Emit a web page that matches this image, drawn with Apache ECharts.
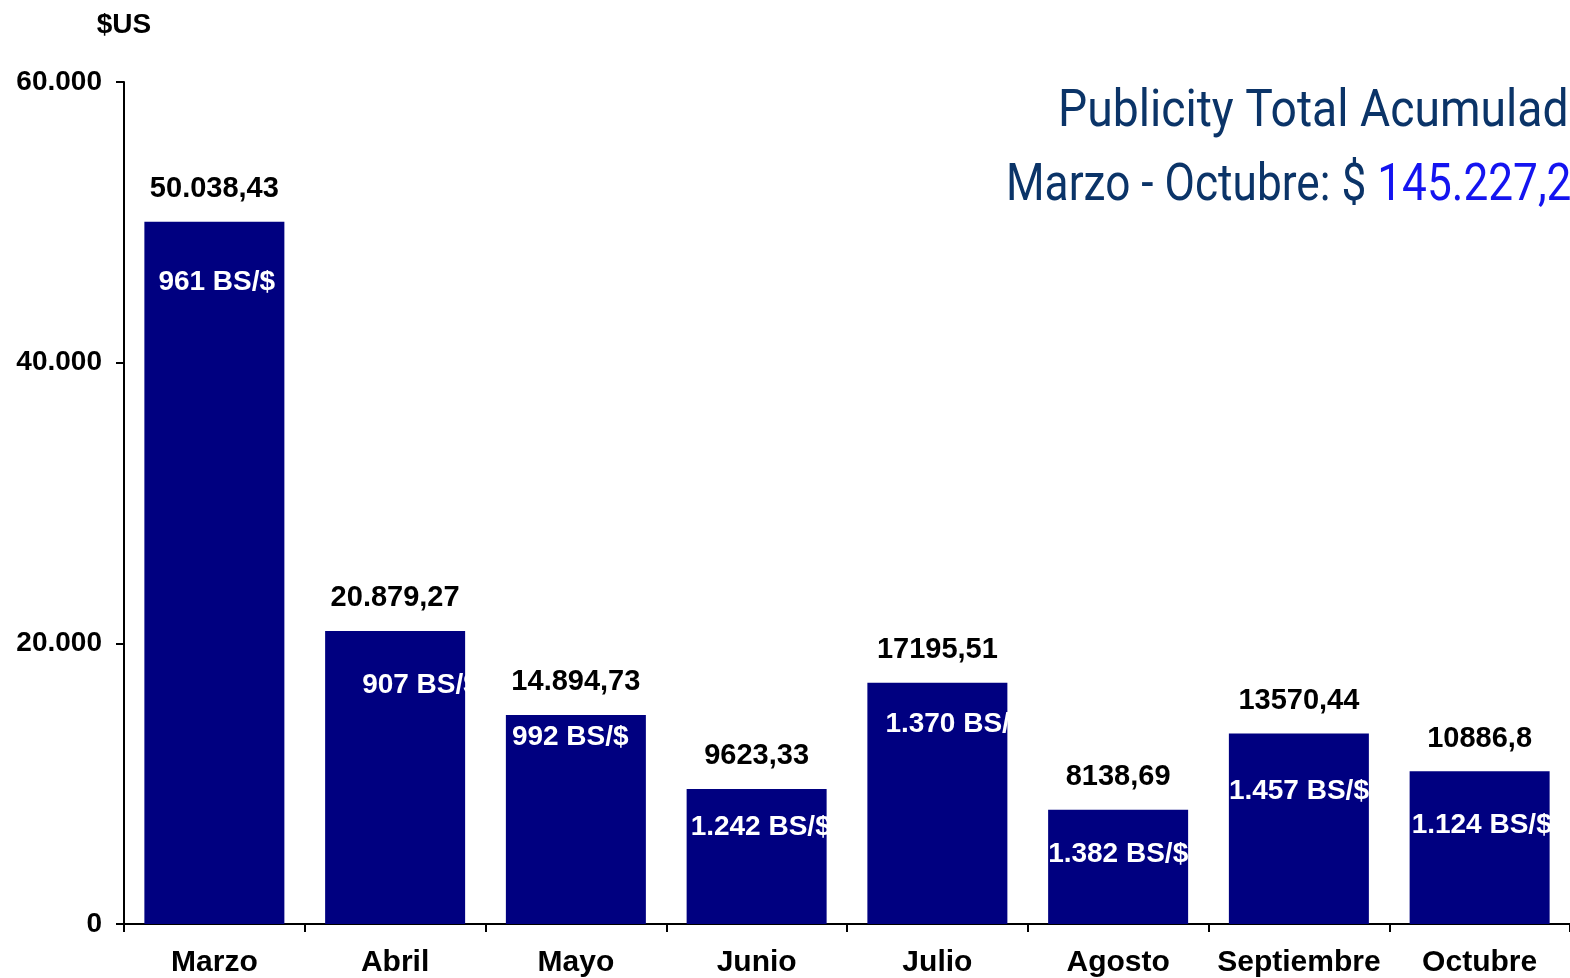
<!DOCTYPE html>
<html>
<head>
<meta charset="utf-8">
<script src="https://cdn.jsdelivr.net/npm/echarts@6/dist/echarts.min.js"></script>
<style>
  html, body { margin: 0; padding: 0; background: #fff; }
  #chart { width: 1570px; height: 978px; }
</style>
</head>
<body>
<div id="chart"></div>
<script>
var meses = ['Marzo', 'Abril', 'Mayo', 'Junio', 'Julio', 'Agosto', 'Septiembre', 'Octubre'];
var montos = [50038.43, 20879.27, 14894.73, 9623.33, 17195.51, 8138.69, 13570.44, 10886.8];
var etiquetas = ['50.038,43', '20.879,27', '14.894,73', '9623,33', '17195,51', '8138,69', '13570,44', '10886,8'];
var tasas = ['961 BS/$', '907 BS/$', '992 BS/$', '1.242 BS/$', '1.370 BS/$', '1.382 BS/$', '1.457 BS/$', '1.124 BS/$'];
var ticksY = [0, 20000, 40000, 60000];

// donde cae el texto de la tasa dentro de cada barra (px desde la esquina sup. izq.)
// lo que se sale de la barra queda blanco sobre blanco, como en el original
var posTasa = [[14, 60], [37, 54], [6, 22], [4, 38], [18, 42], [0, 44], [0, 58], [2, 54]];
var anchoBarra = 140;

var chart = echarts.init(document.getElementById('chart'));

function fmtMiles(v) {
  return String(v).replace(/\B(?=(\d{3})+(?!\d))/g, '.');
}

var fuente = 'Liberation Sans, Arial, sans-serif';

var option = {
  animation: false,
  grid: { left: 124, right: -2, top: 82, bottom: 53 },
  xAxis: {
    type: 'category',
    data: meses,
    axisLine: { lineStyle: { color: '#000', width: 2 } },
    axisTick: { show: true, length: 8, lineStyle: { color: '#000', width: 2 } },
    axisLabel: {
      interval: 0,
      margin: 24,
      color: '#000',
      fontFamily: fuente,
      fontWeight: 'bold',
      fontSize: 30
    }
  },
  yAxis: {
    type: 'value',
    min: ticksY[0],
    max: ticksY[ticksY.length - 1],
    interval: 20000,
    name: '$US',
    nameLocation: 'end',
    nameGap: 43,
    nameTextStyle: {
      color: '#000',
      fontFamily: fuente,
      fontWeight: 'bold',
      fontSize: 28,
      align: 'center'
    },
    splitLine: { show: false },
    axisLine: { show: true, lineStyle: { color: '#000', width: 2 } },
    axisTick: { show: true, length: 8, lineStyle: { color: '#000', width: 2 } },
    axisLabel: {
      margin: 22,
      color: '#000',
      fontFamily: fuente,
      fontWeight: 'bold',
      fontSize: 28,
      formatter: function (v) { return fmtMiles(v); }
    }
  },
  graphic: [
    {
      type: 'text',
      left: 1058,
      top: 87,
      scaleX: 0.89,
      style: {
        text: 'Publicity Total Acumulado',
        fill: '#0b3468',
        font: '52px Roboto, "Noto Sans", sans-serif'
      }
    },
    {
      type: 'text',
      left: 1006,
      top: 161,
      scaleX: 0.85,
      style: {
        text: '{a|Marzo - Octubre: $ }{b|145.227,2}',
        font: '52px Roboto, "Noto Sans", sans-serif',
        rich: {
          a: { fill: '#0b3468', font: '52px Roboto, "Noto Sans", sans-serif' },
          b: { fill: '#1414f0', font: '52px Roboto, "Noto Sans", sans-serif' }
        }
      }
    }
  ],
  series: [
    {
      type: 'bar',
      data: montos,
      barWidth: anchoBarra,
      itemStyle: { color: '#000080' },
      label: {
        show: true,
        position: 'top',
        distance: 18,
        color: '#000',
        fontFamily: fuente,
        fontWeight: 'bold',
        fontSize: 29,
        formatter: function (p) { return etiquetas[p.dataIndex]; }
      },
      z: 2
    },
    {
      type: 'bar',
      barGap: '-100%',
      barWidth: anchoBarra,
      itemStyle: { color: 'rgba(0,0,0,0)' },
      data: montos.map(function (v, i) {
        return { value: v, label: { position: posTasa[i] } };
      }),
      label: {
        show: true,
        align: 'left',
        verticalAlign: 'middle',
        color: '#fff',
        fontFamily: fuente,
        fontWeight: 'bold',
        fontSize: 28,
        formatter: function (p) { return tasas[p.dataIndex]; }
      },
      z: 3
    }
  ]
};

chart.setOption(option);
</script>
</body>
</html>
